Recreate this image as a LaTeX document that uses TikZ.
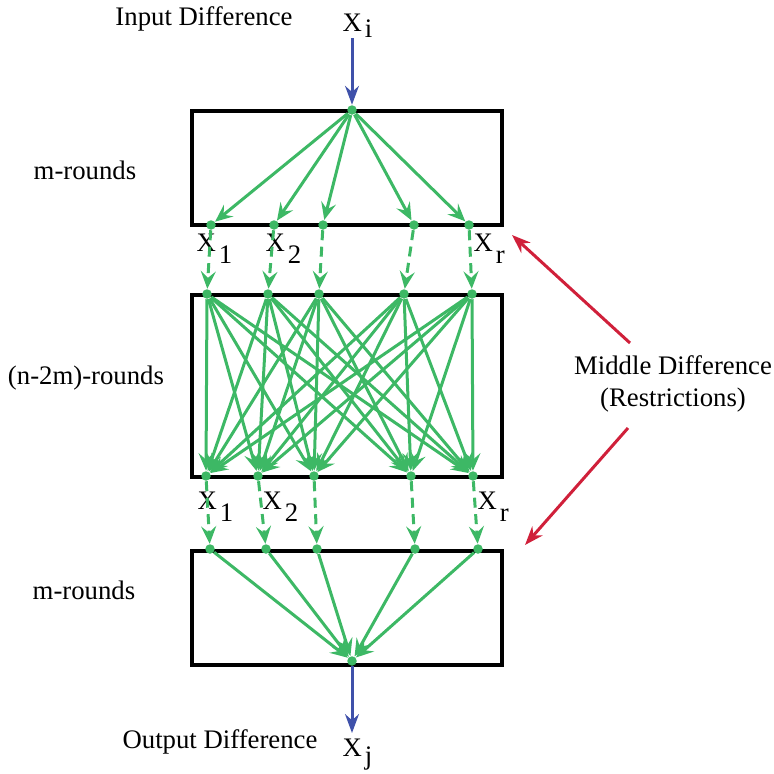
\documentclass[tikz,border=0pt]{standalone}
\usepackage{fontspec}
\setmainfont{Liberation Serif}
\usetikzlibrary{arrows.meta, positioning}

\definecolor{diffgreen}{RGB}{61,184,101}
\definecolor{diffblue}{RGB}{63,81,170}
\definecolor{diffred}{RGB}{208,32,58}

\tikzset{
  stage/.style={draw, line width=1.4pt, minimum width=124pt, inner sep=0pt},
  dot/.style={circle, fill=diffgreen, inner sep=0pt, minimum size=3.8pt},
  trail/.style={diffgreen, line width=1.2pt, -{Stealth[length=7pt, width=6pt, inset=2.6pt]}},
  guess/.style={trail, dash pattern=on 4pt off 2.6pt},
  inout/.style={diffblue, line width=1.2pt, -{Stealth[length=7.5pt, width=5.5pt, inset=2.4pt]}},
  hint/.style={diffred, line width=1.2pt, -{Stealth[length=7.5pt, width=5.5pt, inset=2.4pt]}},
  xlabel/.style={inner sep=0pt, anchor=north west}
}
\newcommand{\xsub}[2][0.45em]{X\kern1.2pt\raisebox{-#1}{#2}}

\begin{document}
\begin{tikzpicture}[x=0.4pt, y=-0.4pt, font=\fontsize{10.7}{12.8}\selectfont]
  \useasboundingbox (0,0) rectangle (774,774);

  % round blocks
  \node [stage, minimum height=45.6pt] (top-box) at (347,168) {};
  \node [stage, minimum height=72.8pt] (mid-box) at (347,386) {};
  \node [stage, minimum height=45.6pt] (bot-box) at (347,608) {};

  \node at (85,170) {m-rounds};
  \node at (86,378) {(n-2m)-rounds};
  \node at (84,590) {m-rounds};

  % input / output
  \node at (204,19) {Input Difference};
  \node [xlabel] (xi) at (342,13) {\xsub[0.25em]{i}};
  \node at (220,742) {Output Difference};
  \node [xlabel] (xj) at (342,738) {\xsub[0.3em]{j}};

  \node [dot] (in) at (352,110) {};
  \node [dot] (out) at (352,661) {};

  \foreach \x [count=\i] in {211,274,323,414,469}
    \node [dot] (a-\i) at (\x,225) {};
  \foreach \x [count=\i] in {207,268,319,404,472}
    \node [dot] (b-\i) at (\x,294) {};
  \foreach \x [count=\i] in {206,258,314,411,473}
    \node [dot] (c-\i) at (\x,476) {};
  \foreach \x [count=\i] in {210,266,317,415,478}
    \node [dot] (d-\i) at (\x,549) {};

  \foreach \x/\l in {196/1,265/2,473/r}
    \node [xlabel] at (\x,233) {\xsub{\l}};
  \foreach \x/\l in {197/1,262/2,477/r}
    \node [xlabel] at (\x,491) {\xsub{\l}};

  \draw [inout] (in |- xi.south) -- (in);
  \draw [inout] (out) -- ([yshift=2pt]out |- xj.north);

  \foreach \i in {1,...,5}
    \draw [trail] (in) -- (a-\i);

  \foreach \i in {1,...,5}
    \draw [guess] (a-\i) -- (b-\i);

  \foreach \i in {1,...,5}
    \foreach \j in {1,...,5}
      \draw [trail] (b-\i) -- (c-\j);

  \foreach \i in {1,...,5}
    \draw [guess] (c-\i) -- (d-\i);

  \foreach \i in {1,...,5}
    \draw [trail] (d-\i) -- (out);

  % restrictions
  \node [align=center] (mid) at (673,384) {Middle Difference\\(Restrictions)};
  \coordinate (hint-a) at (630,343);
  \coordinate (hint-b) at (628,428);
  \coordinate (tip-a) at (512,235);
  \coordinate (tip-b) at (525,545);
  \draw [hint] (hint-a) -- (tip-a);
  \draw [hint] (hint-b) -- (tip-b);

\end{tikzpicture}
\end{document}
